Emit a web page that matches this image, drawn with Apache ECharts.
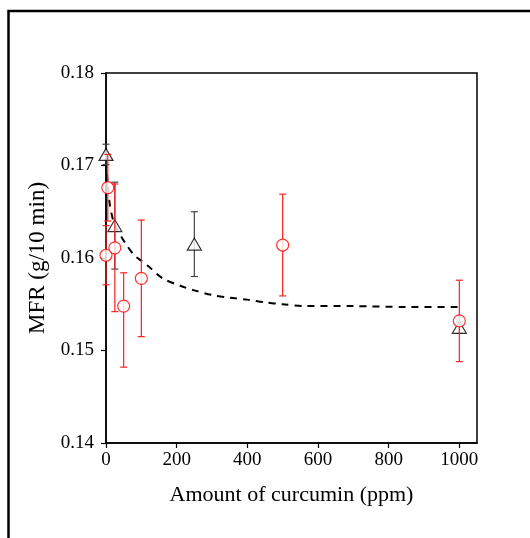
<!DOCTYPE html>
<html>
<head>
<meta charset="utf-8">
<script src="https://cdn.jsdelivr.net/npm/echarts@6/dist/echarts.min.js"></script>
<style>
html,body{margin:0;padding:0;background:#fff;}
#chart{width:530px;height:538px;}
</style>
</head>
<body>
<div id="chart"></div>
<script>
// Black triangles series
const blackX = [0, 25, 250, 1000];
const blackY = [0.1712, 0.1635, 0.1615, 0.1525];
const blackErrUp = [0.0011, 0.0047, 0.0035, 0.0006];
const blackErrDown = [0.0011, 0.0047, 0.0035, 0.0006];

// Red circles series
const redX = [0, 5, 25, 50, 100, 500, 1000];
const redY = [0.1603, 0.1676, 0.1611, 0.1548, 0.1578, 0.1614, 0.1532];
const redErrUp = [0.0032, 0.0036, 0.0069, 0.0036, 0.0063, 0.0055, 0.0044];
const redErrDown = [0.0032, 0.0036, 0.0069, 0.0066, 0.0063, 0.0055, 0.0044];

// Dashed fitted curve
const fitX = [0, 5, 10, 20, 30, 45, 60, 80, 100, 120, 160, 210, 250, 300, 350, 400, 450, 500, 560, 700, 850, 1000];
const fitY = [0.1705, 0.1680, 0.1660, 0.1641, 0.1632, 0.1622, 0.1613, 0.1603, 0.1597, 0.1591, 0.1578, 0.1570, 0.1565, 0.1560, 0.1557, 0.1555, 0.1552, 0.1550, 0.1548, 0.1548, 0.1547, 0.1547];

// Axis ticks
const xTicks = { min: 0, max: 1050, interval: 200 };
const yTicks = { min: 0.14, max: 0.18, interval: 0.01 };

const FONT = '"Liberation Serif", "Times New Roman", serif';

function zip4(a, b, c, d) { return a.map((v, i) => [v, b[i], c[i], d[i]]); }

function errRender(color, capHalf, lw) {
  return function (params, api) {
    const x = api.value(0), y = api.value(1), eu = api.value(2), ed = api.value(3);
    const t = api.coord([x, y + eu]);
    const b = api.coord([x, y - ed]);
    const st = { stroke: color, lineWidth: lw, fill: null };
    return {
      type: 'group',
      children: [
        { type: 'line', shape: { x1: t[0], y1: t[1], x2: b[0], y2: b[1] }, style: st },
        { type: 'line', shape: { x1: t[0] - capHalf, y1: t[1], x2: t[0] + capHalf, y2: t[1] }, style: st },
        { type: 'line', shape: { x1: b[0] - capHalf, y1: b[1], x2: b[0] + capHalf, y2: b[1] }, style: st }
      ]
    };
  };
}

const chart = echarts.init(document.getElementById('chart'), null, { renderer: 'canvas' });
chart.setOption({
  animation: false,
  backgroundColor: '#fff',
  graphic: [{
    type: 'rect', silent: true, z: -10,
    shape: { x: 8.5, y: 11, width: 700, height: 700 },
    style: { stroke: '#000', lineWidth: 2.5, fill: null }
  }],
  grid: {
    left: 106, top: 73, width: 371, height: 370,
    show: true, borderColor: '#000', borderWidth: 1.5, backgroundColor: 'transparent'
  },
  xAxis: {
    type: 'value',
    min: xTicks.min, max: xTicks.max, interval: xTicks.interval,
    axisLine: { show: true, lineStyle: { color: '#000', width: 1.5 } },
    axisTick: { show: true, inside: false, length: 5, lineStyle: { color: '#000', width: 1.2 } },
    axisLabel: { color: '#000', fontFamily: FONT, fontSize: 19, margin: 8, showMaxLabel: false,
      formatter: v => String(v) },
    splitLine: { show: false },
    name: 'Amount of curcumin (ppm)',
    nameLocation: 'middle', nameGap: 41,
    nameTextStyle: { color: '#000', fontFamily: FONT, fontSize: 22 }
  },
  yAxis: {
    type: 'value',
    min: yTicks.min, max: yTicks.max, interval: yTicks.interval,
    axisLine: { show: true, lineStyle: { color: '#000', width: 1.5 } },
    axisTick: { show: true, inside: false, length: 5, lineStyle: { color: '#000', width: 1.2 } },
    axisLabel: {
      color: '#000', fontFamily: FONT, fontSize: 19, margin: 12,
      formatter: v => v.toFixed(2)
    },
    splitLine: { show: false },
    name: 'MFR (g/10 min)',
    nameLocation: 'middle', nameGap: 57, nameRotate: 90,
    nameTextStyle: { color: '#000', fontFamily: FONT, fontSize: 23 }
  },
  series: [
    {
      type: 'line', name: 'fit',
      data: fitX.map((x, i) => [x, fitY[i]]),
      smooth: 0.3, symbol: 'none',
      lineStyle: { color: '#000', width: 2, type: [7, 6] },
      z: 1
    },
    {
      type: 'custom', name: 'blackErr',
      data: zip4(blackX, blackY, blackErrUp, blackErrDown),
      encode: { x: 0, y: 1 },
      renderItem: errRender('#444', 3.5, 1.2),
      z: 2
    },
    {
      type: 'scatter', name: 'black',
      data: blackX.map((x, i) => [x, blackY[i]]),
      symbol: 'triangle', symbolSize: [14, 12],
      itemStyle: { color: '#fff', borderColor: '#000', borderWidth: 1.2 },
      z: 3
    },
    {
      type: 'custom', name: 'redErr',
      data: zip4(redX, redY, redErrUp, redErrDown),
      encode: { x: 0, y: 1 },
      renderItem: errRender('#ff2020', 3.5, 1.2),
      z: 4
    },
    {
      type: 'scatter', name: 'red',
      data: redX.map((x, i) => [x, redY[i]]),
      symbol: 'circle', symbolSize: 12,
      itemStyle: { color: '#fff', borderColor: '#ff0000', borderWidth: 1.2 },
      z: 5
    }
  ]
});
</script>
</body>
</html>
